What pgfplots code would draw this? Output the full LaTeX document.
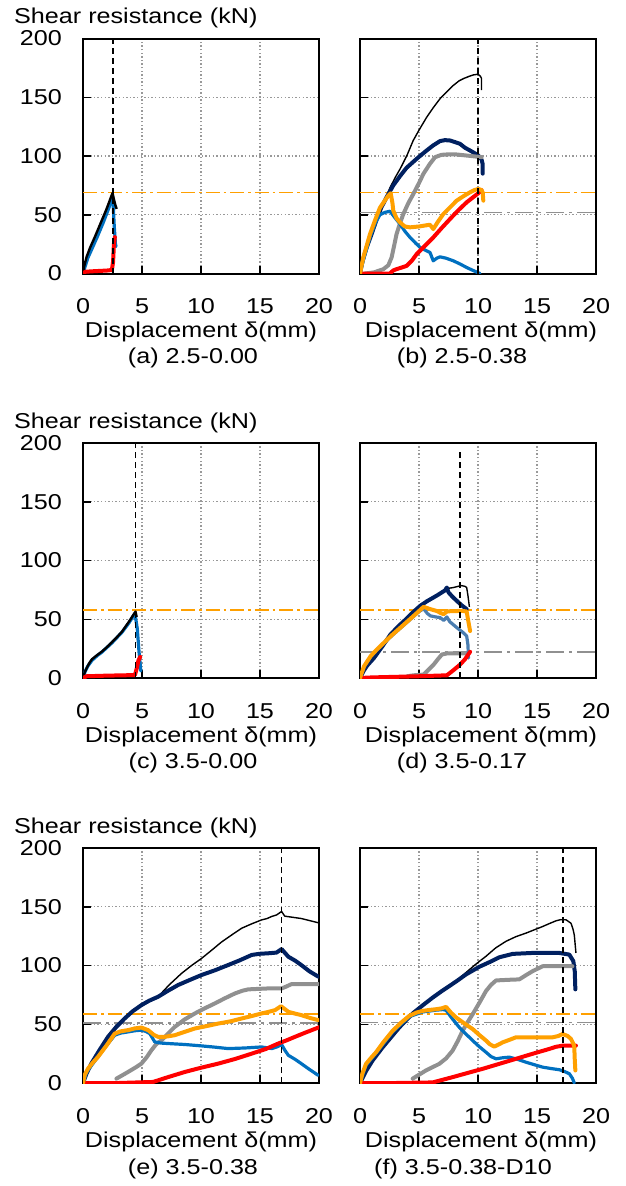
\documentclass[border=0pt]{standalone}
\usepackage{fontspec}
\setmainfont{Liberation Sans}[FakeStretch=1.17]
\usepackage{pgfplots}
\pgfplotsset{compat=1.18}
\definecolor{cnavy}{HTML}{002060}
\definecolor{cgray}{HTML}{909090}
\definecolor{corange}{HTML}{FFA000}
\definecolor{cblue}{HTML}{0070C0}
\definecolor{csteel}{HTML}{4A7DB0}
\definecolor{cred}{HTML}{FF0000}
\newcommand{\F}{\fontsize{21.5}{25}\selectfont}
\pgfplotsset{
  panel/.style={
    scale only axis, width=236pt, height=235pt,
    xmin=0, xmax=20, ymin=0, ymax=200,
    xtick={0,5,10,15,20}, ytick={0,50,100,150,200},
    grid=major,
    major grid style={color=gray!80, line width=1.2pt, dash pattern=on 1.4pt off 2.2pt},
    tick align=inside, tick pos=left, major tick length=8pt,
    tick style={black, line width=1.5pt},
    axis line style={black, line width=2pt},
    ticklabel style={font=\F},
    /pgf/number format/assume math mode=true,
    xticklabel style={anchor=base, yshift=-40pt},
    yticklabel style={anchor=east, inner sep=0pt, xshift=-21pt},
  },
  rpanel/.style={panel, yticklabels={}},
  thk/.style={line width=4pt, line join=round, line cap=round},
  bl/.style={line width=3.2pt, line join=round, line cap=round},
  cblk/.style={black, line width=1.4pt, line join=round},
  vdash/.style={black, line width=1.8pt, dash pattern=on 6pt off 4pt},
  oref/.style={corange, line width=1.8pt, dash pattern=on 14pt off 4pt on 2.5pt off 4pt},
  gref/.style={cgray, line width=1.8pt, dash pattern=on 18pt off 5pt on 3pt off 5pt},
}
\begin{document}
\begin{tikzpicture}[x=1pt,y=1pt]
\useasboundingbox (0,0) rectangle (626,-1186);

% (a)
\begin{axis}[panel, at={(83pt,-273.5pt)}, anchor=south west]
\addplot[oref] coordinates {(0,69) (20,69)};
\addplot[cblue, bl] coordinates {(0,0) (0.15,5) (0.4,13) (0.8,22) (1.2,31) (1.7,43) (2.2,56) (2.5,66) (2.55,60) (2.65,40) (2.75,25) (2.8,23)};
\addplot[black, line width=2.4pt, line join=round] coordinates {(0,0) (0.1,6) (0.3,14) (0.6,22) (1,31) (1.5,43) (2,55) (2.5,68.5) (2.6,64) (2.75,58) (2.85,55)};
\addplot[cred, thk] coordinates {(0,0) (0.2,1.5) (1,2) (2,2.5) (2.45,3) (2.55,10) (2.62,25) (2.7,31)};
\addplot[vdash] coordinates {(2.52,0) (2.52,200)};
\end{axis}

% (b)
\begin{axis}[rpanel, at={(360pt,-273.5pt)}, anchor=south west]
\addplot[oref] coordinates {(0,69) (20,69)};
\addplot[gref] coordinates {(0,52) (20,52)};
\addplot[cblk] coordinates {(0,0) (0.3,12) (0.8,30) (1.4,47) (2,60) (2.54,73) (3,82) (3.4,89) (4,101) (4.5,113) (5,122) (5.65,133) (6.2,141) (6.8,149) (7.4,155) (7.9,160) (8.4,164) (8.8,166) (9.3,168) (9.6,169) (10,169.6) (10.2,168) (10.3,166) (10.3,156)};
\addplot[cnavy, thk] coordinates {(0,0) (0.2,10) (0.56,22) (1,34) (1.41,46) (1.8,56) (2.26,65) (2.82,75) (3.4,83) (3.95,90) (4.4,94) (4.8,97.6) (5.2,101) (5.65,104.7) (6.2,109) (6.78,112.7) (7.2,113.5) (7.63,113.2) (8,112) (8.47,110.4) (8.9,107) (9.32,104.7) (9.7,102.5) (10.03,100.4) (10.3,97) (10.4,93) (10.4,85)};
\addplot[cgray, thk] coordinates {(0.42,0) (1.2,1) (1.98,3.7) (2.4,7) (2.68,13.7) (2.9,24) (3.1,33.6) (3.4,43) (3.67,50.6) (4.1,60) (4.52,67.7) (5,77) (5.37,84.8) (5.9,93) (6.36,99) (6.9,101) (7.34,101.3) (8.19,101.3) (9.04,100.4) (10.3,99)};
\addplot[cblue, bl] coordinates {(0,0) (0.3,12) (0.85,31) (1.3,43) (1.69,50) (2.1,52) (2.54,53) (3,47) (3.39,42.1) (3.8,36) (4.24,30.7) (4.7,26) (5.08,22.2) (5.6,19.5) (5.93,17.9) (6.21,10.8) (6.5,13) (6.78,14.2) (7.3,13) (7.91,10.8) (8.5,8) (9.04,5.1) (9.6,2.5) (10.17,0)};
\addplot[cred, thk] coordinates {(0,0) (1,0) (2.54,0) (2.8,2.5) (3.1,3.7) (3.5,5) (3.95,6.5) (4.4,11) (4.8,16.5) (5.5,23.5) (6.21,30.7) (6.9,38.5) (7.63,46.4) (8.3,53.5) (9.04,60.6) (9.6,65) (10.03,68.3) (10.3,71)};
\addplot[corange, thk] coordinates {(0,0) (0.28,13.7) (0.85,33.6) (1.3,46) (1.69,56) (2.1,62) (2.4,66.3) (2.6,68.3) (2.75,60) (2.82,53.5) (3.1,47) (3.39,43.5) (3.8,40) (4.24,39.3) (5,40) (5.6,41) (5.93,41.5) (6.21,37.8) (6.6,44) (7.06,50.6) (7.6,56) (8.19,62) (8.8,66) (9.32,69.1) (9.7,71) (10.03,72) (10.3,71) (10.4,69) (10.45,62)};
\addplot[vdash] coordinates {(10,0) (10,200)};
\end{axis}

% (c)
\begin{axis}[panel, at={(83pt,-678pt)}, anchor=south west]
\addplot[oref] coordinates {(0,58) (20,58)};
\addplot[cblue, bl] coordinates {(0,0) (0.2,6) (0.4,10) (0.76,15) (1.2,19) (1.6,22) (2.46,30) (3.31,39) (3.9,47) (4.4,55) (4.6,42) (4.75,22) (4.9,6)};
\addplot[black, line width=2.4pt, line join=round] coordinates {(0,0) (0.15,5) (0.34,9) (0.55,13) (0.76,16) (1.2,19.5) (1.6,22.5) (2,26) (2.46,30.5) (2.9,35) (3.31,39.5) (3.9,48) (4.45,56.5) (4.55,52)};
\addplot[cred, thk] coordinates {(0,0) (0.3,1.5) (2,2) (4.4,2.5) (4.55,8) (4.7,15) (4.85,18)};
\addplot[vdash] coordinates {(4.45,0) (4.45,200)};
\end{axis}

% (d)
\begin{axis}[rpanel, at={(360pt,-678pt)}, anchor=south west]
\addplot[oref] coordinates {(0,58) (20,58)};
\addplot[gref] coordinates {(0,22) (20,22)};
\addplot[cblk] coordinates {(0,0) (0.3,6) (0.6,10.5) (1.18,17) (1.9,27) (2.58,37) (3.3,44.5) (4,51) (4.5,56) (5.1,61.4) (5.7,65.5) (6.24,68.6) (6.6,70.7) (6.94,72.9) (7.2,74.5) (7.36,76) (7.6,76.5) (7.92,77) (8.3,78) (8.62,78.6) (8.9,78) (9.04,77) (9.15,70) (9.27,60.6)};
\addplot[cnavy, thk] coordinates {(0,0) (0.3,6) (0.6,10.5) (1.18,17) (1.9,27) (2.58,37) (3.3,44.5) (4,51) (4.5,56) (5.1,61.4) (5.7,65.5) (6.24,68.6) (6.6,70.7) (6.94,72.9) (7.2,74.5) (7.36,77) (7.5,72.9) (7.85,69) (8.2,65.7) (8.6,62) (9.04,58.6)};
\addplot[cgray, thk] coordinates {(4.0,1.5) (4.55,2.3) (5.39,2.9) (5.8,7) (6.24,11.4) (6.6,16) (6.94,20) (7.36,20.9) (9.04,20.9)};
\addplot[csteel, bl] coordinates {(0,0) (0.34,9.5) (0.9,18) (1.4,23.5) (2.02,29.5) (2.7,36) (3.43,42.5) (4,47.5) (4.55,52.5) (5,56.5) (5.39,59) (5.7,55) (5.96,52.9) (6.4,52) (6.8,51.4) (7.1,49) (7.36,52) (7.6,48) (8.2,42.9) (8.7,39) (9.04,35.7) (9.15,28) (9.19,17)};
\addplot[cred, thk] coordinates {(0,0) (1,0.5) (3,1) (5,1.5) (7.36,2.3) (7.9,6.5) (8.48,11.4) (8.9,16) (9.33,22.3)};
\addplot[corange, thk] coordinates {(0,0) (0.34,10) (0.9,18.6) (1.4,24) (2.02,30) (2.7,36.5) (3.43,42.9) (4,48) (4.55,52.9) (5,57) (5.39,60.6) (5.7,59.5) (5.96,58.6) (6.52,57) (6.8,55.5) (7.08,54.3) (7.36,56.6) (7.8,57) (8.2,57) (8.6,57.2) (9.04,56.6) (9.15,50) (9.33,40)};
\addplot[vdash] coordinates {(8.48,0) (8.48,192)};
\end{axis}

% (e)
\begin{axis}[panel, at={(83pt,-1083pt)}, anchor=south west]
\addplot[oref] coordinates {(0,59) (20,59)};
\addplot[gref] coordinates {(0,51) (20,51)};
\addplot[cblk] coordinates {(0,0) (0.3,8) (0.7,16.5) (1.4,28) (2.12,39.3) (2.8,47.5) (3.54,55) (4.2,61) (4.95,66.3) (5.6,70) (6.36,73.4) (7.3,83.5) (8.35,93.3) (9.2,100) (10.04,106) (10.9,113) (11.74,120) (12.6,126) (13.44,131.7) (14.3,135.5) (15.13,138.8) (15.6,140) (15.98,141.7) (16.4,143) (16.83,146) (17.1,142) (17.8,141) (18.5,140) (19.3,138) (20.1,136)};
\addplot[cnavy, thk] coordinates {(0,0) (0.3,8) (0.7,16.5) (1.4,28) (2.12,39.3) (2.8,47.5) (3.54,55) (4.2,61) (4.95,66.3) (5.6,70) (6.36,73.4) (7.2,78.5) (8.06,83.4) (9,87.5) (10.04,91.9) (11.2,96) (12.3,100.4) (13.3,104.5) (14.3,109) (15,110) (15.7,110.4) (16.4,111) (16.83,114) (17.4,107.5) (18,104) (18.5,100.4) (19.2,95) (19.95,90.5)};
\addplot[cgray, thk] coordinates {(2.83,3.7) (3.82,9.4) (4.5,13.5) (4.95,16.5) (5.4,22) (5.8,27.9) (6.2,33) (6.65,36.4) (7.2,42) (7.78,47.8) (8.6,54) (9.48,59.2) (10.3,63.5) (11.17,67.7) (12,72) (12.87,76.2) (13.5,78.5) (14,79.7) (15.7,80.5) (16.83,80.5) (17.2,82) (17.68,84.2) (19.94,84.2)};
\addplot[cblue, bl] coordinates {(0,0) (0.3,9) (0.8,16) (1.4,24) (2.0,32) (2.69,40.7) (3.2,42.5) (3.82,43.5) (4.4,44.5) (4.95,45) (5.3,44) (5.66,42.1) (6.08,35) (6.6,34) (7.21,33.6) (8.6,32.8) (10.04,31.6) (11.2,30.5) (12.3,29.3) (13.7,29.8) (15.13,30.7) (16,29.3) (16.5,31) (16.83,32.7) (17.1,28) (17.4,23.6) (18,20) (18.5,16.5) (19.2,11.5) (19.94,6.5)};
\addplot[cred, thk] coordinates {(0,0) (3,0) (5.94,0.9) (7.2,5) (8.63,9.4) (10,13) (11.46,16.5) (12.9,20.5) (14.3,25) (15.5,29) (16.55,33.6) (17.3,36.5) (17.96,39.3) (19,43.5) (20.1,47.8)};
\addplot[corange, thk] coordinates {(0,0) (0.15,7) (0.42,12.2) (0.8,17) (1.27,22.2) (2,32) (2.69,42.1) (3.2,44) (3.82,45) (4.4,46.5) (4.95,47.2) (5.52,45) (6,41) (6.36,39.3) (6.93,39.3) (7.78,40.7) (8.6,43.5) (9.48,46.4) (10.5,48.5) (11.46,50.6) (12.5,52.5) (13.44,54.9) (14.3,57) (15.13,59.2) (15.7,60.5) (16.27,62) (16.78,65.4) (17.4,60.6) (18,59) (18.5,57.8) (19.2,55.5) (19.94,53.5)};
\addplot[vdash] coordinates {(16.83,0) (16.83,200)};
\end{axis}

% (f)
\begin{axis}[rpanel, at={(360pt,-1083pt)}, anchor=south west]
\addplot[oref] coordinates {(0,58.6) (20,58.6)};
\addplot[gref] coordinates {(0,51.5) (20,51.5)};
\addplot[cblk] coordinates {(0,0) (0.5,10) (1.07,19.2) (1.92,30.4) (3.33,47.3) (4.46,59.2) (6.16,72.7) (7.57,82.5) (8.14,86.8) (8.98,94) (9.8,101) (10.68,107.9) (11.5,115) (12.37,120.6) (13.2,124.5) (14.07,127.6) (14.8,130.5) (15.48,133.2) (16,135.5) (16.6,138) (17.0,139) (17.46,138.9) (17.88,136) (18.05,131) (18.16,126) (18.3,110.7)};
\addplot[cnavy, thk] coordinates {(0,0) (0.5,10) (1.07,19.2) (1.92,30.4) (3.33,47.3) (4.46,59.2) (5.3,66) (6.16,72.7) (6.9,78) (7.57,82.5) (8.3,87.5) (8.98,92.4) (10.11,98.9) (11,103) (11.81,107) (12.94,109.9) (14.63,110.7) (16.89,110.7) (17.74,109.3) (18.08,103.7) (18.2,95) (18.25,79.7)};
\addplot[cgray, thk] coordinates {(4.46,3.7) (5.59,10.7) (6.72,16.3) (7.3,21) (7.85,27.6) (8.3,36) (8.7,44.5) (9.1,51.5) (9.55,58.6) (10.1,68) (10.68,78.3) (11.1,83.5) (11.53,87.3) (12.5,87.8) (13.5,88.2) (14.1,92) (14.63,95.2) (15.48,99.4) (18,99.4)};
\addplot[cblue, bl] coordinates {(0,0) (0.5,15) (1.36,25.5) (2.77,43.5) (4.18,56.5) (5.31,60.5) (6.44,62) (7.0,62.5) (7.29,62) (7.8,55) (8.42,47.3) (9.0,41.5) (9.55,36.1) (10.1,31) (10.68,26.2) (11.1,22.5) (11.53,20.6) (12.1,21.5) (12.66,22) (13.4,20) (14.07,17.7) (14.8,15.5) (15.48,13.5) (16.2,12.3) (16.9,11.3) (17.4,9.5) (17.74,7.9) (18,4) (18.16,0)};
\addplot[cred, thk] coordinates {(0,0) (3,0) (6.16,0.5) (7.85,5) (9.1,8.5) (10.4,12.1) (11.8,16.3) (13.22,20.6) (14.6,24.8) (16.04,29) (16.6,30.8) (17.17,31.8) (18.3,31.8)};
\addplot[corange, thk] coordinates {(0,0) (0.2,8) (0.51,16.3) (0.9,21) (1.36,26.2) (2.0,35) (2.77,44.5) (3.5,51.5) (4.18,57.2) (4.8,60) (5.31,61.4) (5.9,62.2) (6.44,62.8) (6.9,63.5) (7.29,64.8) (7.7,60) (8.14,55.8) (8.8,51) (9.55,45.9) (10.1,41) (10.68,36.1) (11.0,33) (11.38,31) (11.7,32.5) (12.09,34.6) (12.6,36.5) (13.22,38.9) (14.63,38.9) (16.33,38.9) (16.8,40) (17.17,41.7) (17.6,40) (17.88,37.5) (18.1,33) (18.16,30.4) (18.2,20) (18.25,10.7)};
\addplot[vdash] coordinates {(17.17,0) (17.17,200)};
\end{axis}

% texts
\foreach \yy/\bb in {23/273.5, 428/678, 833/1083}{
  \node[anchor=base west, font=\F, inner sep=0pt] at (14,-\yy) {Shear resistance (kN)};
  \node[anchor=base, font=\F, inner sep=0pt] at (201,-\bb-64) {Displacement δ(mm)};
  \node[anchor=base, font=\F, inner sep=0pt] at (481,-\bb-64) {Displacement δ(mm)};
}
\node[anchor=base, font=\F, inner sep=0pt] at (193,-363) {(a) 2.5-0.00};
\node[anchor=base, font=\F, inner sep=0pt] at (462,-363) {(b) 2.5-0.38};
\node[anchor=base, font=\F, inner sep=0pt] at (193,-768) {(c) 3.5-0.00};
\node[anchor=base, font=\F, inner sep=0pt] at (462,-768) {(d) 3.5-0.17};
\node[anchor=base, font=\F, inner sep=0pt] at (193,-1174) {(e) 3.5-0.38};
\node[anchor=base, font=\F, inner sep=0pt] at (463,-1174) {(f) 3.5-0.38-D10};
\end{tikzpicture}
\end{document}
